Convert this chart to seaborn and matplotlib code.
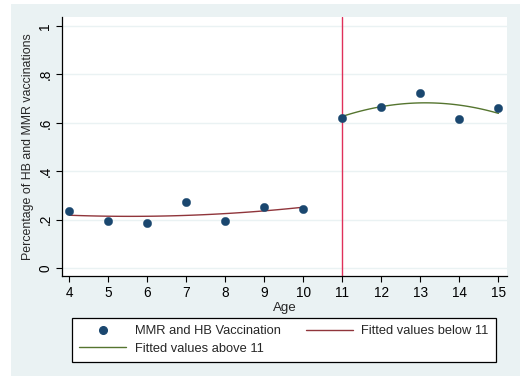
import numpy as np
import pandas as pd
import matplotlib
matplotlib.use("Agg")
import matplotlib.pyplot as plt
from matplotlib.patches import Rectangle
from matplotlib.lines import Line2D
import seaborn as sns

# Share of children with MMR and HB vaccinations by age
ages = [4, 5, 6, 7, 8, 9, 10, 11, 12, 13, 14, 15]
rates = [0.235, 0.194, 0.186, 0.274, 0.195, 0.252, 0.245,
         0.620, 0.667, 0.724, 0.618, 0.660]
cutoff = 11
x_ticks = list(range(4, 16))
y_ticks = [0, 0.2, 0.4, 0.6, 0.8, 1.0]
y_tick_labels = ["0", ".2", ".4", ".6", ".8", "1"]

df = pd.DataFrame({"age": ages, "rate": rates})
below = df[df["age"] < cutoff]
above = df[df["age"] >= cutoff]

sns.set_style("white")
plt.rcParams["font.family"] = ["Liberation Sans", "DejaVu Sans"]

NAVY = "#1a476f"
MAROON = "#90353b"
GREEN = "#55752f"
CUTLINE = "#e0305a"
BG = "#eaf2f3"
FS = 9.3

fig = plt.figure(figsize=(5.29, 3.76), dpi=100)
fig.patch.set_facecolor("white")
fig.patches.append(Rectangle((11 / 529, 0), 509 / 529, 372 / 376,
                             transform=fig.transFigure, facecolor=BG,
                             edgecolor="none", zorder=-10))

ax = fig.add_axes([62 / 529, 1 - 276 / 376, 445 / 529, 259 / 376])
ax.set_zorder(1)
ax.set_facecolor("white")

for yt in y_ticks:
    ax.axhline(yt, color=BG, lw=1.0, zorder=0)

ax.axvline(cutoff, color=CUTLINE, lw=1.0, zorder=1)

sns.regplot(data=below, x="age", y="rate", order=2, ci=None, scatter=False,
            truncate=True, ax=ax, line_kws={"color": MAROON, "lw": 1.0, "zorder": 2})
sns.regplot(data=above, x="age", y="rate", order=2, ci=None, scatter=False,
            truncate=True, ax=ax, line_kws={"color": GREEN, "lw": 1.0, "zorder": 2})
sns.scatterplot(data=df, x="age", y="rate", ax=ax, color=NAVY, s=36,
                edgecolor=NAVY, linewidth=0.3, zorder=3)

ax.set_xlim(3.81, 15.22)
ax.set_ylim(-0.032, 1.037)
ax.set_xticks(x_ticks)
ax.set_xticklabels([str(t) for t in x_ticks], fontsize=9.8)
ax.set_yticks(y_ticks)
ax.set_yticklabels(y_tick_labels, fontsize=9.8, rotation=90, va="center")

for side in ("top", "right"):
    ax.spines[side].set_visible(False)
for side in ("left", "bottom"):
    ax.spines[side].set_color("black")
    ax.spines[side].set_linewidth(0.9)
ax.tick_params(axis="both", which="major", direction="out", length=4,
               width=0.8, color="black", labelcolor="black", left=True, bottom=True)
ax.tick_params(axis="x", pad=3)
ax.tick_params(axis="y", pad=3)

ax.set_xlabel("Age", fontsize=9.6, labelpad=2)
ax.set_ylabel("Percentage of HB and MMR vaccinations", fontsize=8.9, labelpad=3)

h_dot = Line2D([], [], ls="none", marker="o", ms=5.5, color=NAVY)
h_below = Line2D([], [], color=MAROON, lw=1.0)
h_above = Line2D([], [], color=GREEN, lw=1.0)
leg = fig.legend([h_dot, h_above, h_below],
                 ["MMR and HB Vaccination", "Fitted values above 11", "Fitted values below 11"],
                 ncol=2, loc="upper left",
                 bbox_to_anchor=(72 / 529, 1 - 318 / 376),
                 fontsize=FS, frameon=True, fancybox=False, framealpha=1,
                 edgecolor="black", handlelength=3.64, handletextpad=0.66,
                 labelspacing=0.45, borderpad=0.55, borderaxespad=0,
                 columnspacing=1.95)
leg.get_frame().set_linewidth(0.9)

fig.savefig("out.png", dpi=100, facecolor=fig.get_facecolor())
